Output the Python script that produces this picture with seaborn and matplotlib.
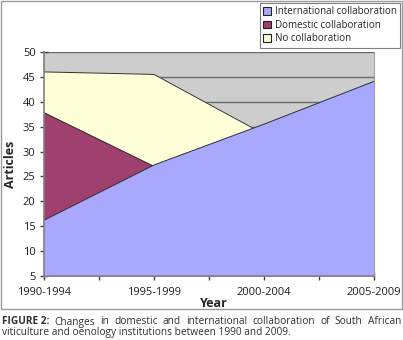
import matplotlib
matplotlib.use('Agg')
import matplotlib.pyplot as plt
import matplotlib.patches as mpatches
import numpy as np
import pandas as pd
import seaborn as sns

# Chart data (overlapping, not stacked areas)
periods = ['1990-1994', '1995-1999', '2000-2004', '2005-2009']
international = [16.2, 27.3, 35.5, 44.1]
domestic = [37.8, 27.0, 24.0, 26.0]
no_collab = [46.0, 45.5, 33.5, 31.0]
series_names = ['International collaboration', 'Domestic collaboration', 'No collaboration']
colors = {'International collaboration': '#a8a8ff',
          'Domestic collaboration': '#a0406e',
          'No collaboration': '#ffffd8'}

df = pd.DataFrame({'period': periods, 'pos': range(len(periods)),
                   'International collaboration': international,
                   'Domestic collaboration': domestic,
                   'No collaboration': no_collab})
long_df = df.melt(id_vars=['period', 'pos'], var_name='series', value_name='articles')

sns.set_style('white')
plt.rcParams['font.family'] = ['Open Sans', 'DejaVu Sans']

fig = plt.figure(figsize=(4.03, 3.40), dpi=100)
ax = fig.add_axes([44 / 403, 1 - 276 / 340, 330 / 403, 224 / 340])
ax.set_facecolor('#cdcdcd')

# Gridlines behind the areas
ax.set_axisbelow(True)
ax.yaxis.grid(True, color='#6a6a6a', linewidth=1)

# Back to front: no collaboration, domestic, international
order = ['No collaboration', 'Domestic collaboration', 'International collaboration']
for i, name in enumerate(order):
    ax.fill_between(df['pos'], 0, df[name], color=colors[name], zorder=2 + 2 * i)
    sns.lineplot(data=long_df[long_df['series'] == name], x='pos', y='articles',
                 color='#303030', linewidth=0.7, ax=ax, zorder=3 + 2 * i, legend=False)

ax.set_xlim(0, 3)
ax.set_ylim(5, 50)
ax.set_yticks(np.arange(5, 51, 5))
half_ticks = np.arange(0, 3.01, 0.5)
ax.set_xticks(half_ticks)
ax.set_xticklabels([periods[int(t)] if t == int(t) else '' for t in half_ticks])
ax.tick_params(axis='both', direction='inout', length=6, width=1, color='#404040',
               labelsize=8, labelcolor='#202020', pad=3, left=True, bottom=True)
ax.tick_params(axis='x', pad=5)

for side in ['left', 'bottom']:
    ax.spines[side].set_color('#808080')
    ax.spines[side].set_linewidth(1.2)
ax.spines['top'].set_visible(False)
ax.spines['right'].set_color('#a0a0a0')
ax.spines['right'].set_linewidth(0.8)
for sp in ax.spines.values():
    sp.set_zorder(10)

ax.set_xlabel('Year', fontsize=9, fontweight='bold', labelpad=-3)
ax.xaxis.set_label_coords(0.515, -0.095)
ax.set_ylabel('Articles', fontsize=9, fontweight='bold', labelpad=4)

# Legend
handles = [mpatches.Patch(facecolor=colors[n], edgecolor='#202020', linewidth=0.8, label=n)
           for n in series_names]
leg = fig.legend(handles=handles, loc='upper right', bbox_to_anchor=(400 / 403, 1 - 3 / 340),
                 fontsize=7, frameon=True, fancybox=False, edgecolor='#606060',
                 handlelength=0.8, handleheight=0.8, handletextpad=0.4,
                 labelspacing=0.25, borderpad=0.35, borderaxespad=0)
leg.get_frame().set_linewidth(0.8)

# Outer frame around the chart
frame = mpatches.Rectangle((1 / 403, 1 - 309 / 340), 401 / 403, 308 / 340,
                           transform=fig.transFigure, fill=False,
                           edgecolor='#9a9a9a', linewidth=1)
fig.patches.append(frame)

# Caption, first line justified
line1 = ['Changes', 'in', 'domestic', 'and', 'international', 'collaboration',
         'of', 'South', 'African']
cap_size = 7.3
fig.canvas.draw()
renderer = fig.canvas.get_renderer()
cap_y1 = 1 - 322 / 340
cap_y2 = 1 - 333 / 340
bold = fig.text(2 / 403, cap_y1, 'FIGURE 2:', fontsize=cap_size, fontweight='bold',
                color='#303030', va='center')
words = [fig.text(0, cap_y1, w, fontsize=cap_size, color='#303030', va='center')
         for w in line1]
fig.canvas.draw()
bold_w = bold.get_window_extent(renderer).width
widths = [t.get_window_extent(renderer).width for t in words]
start = 2 + bold_w
end = 401
gap = (end - start - sum(widths)) / len(words)
x = start + gap
for t, w in zip(words, widths):
    t.set_x(x / 403)
    x += w + gap
fig.text(2 / 403, cap_y2, 'viticulture and oenology institutions between 1990 and 2009.',
         fontsize=cap_size, color='#303030', va='center')

fig.savefig('out.png', dpi=100)
